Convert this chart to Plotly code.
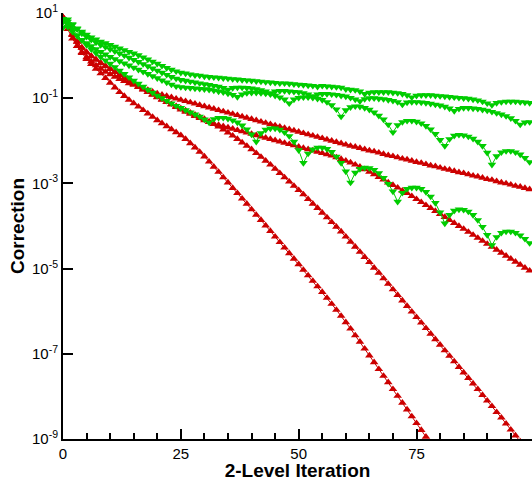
import numpy as np
import plotly.graph_objects as go

# log10 of the correction, one value per 2-level iteration
red_1 = [0.90, 0.72, 0.48, 0.22, 0.06, -0.08, -0.20, -0.31, -0.42, -0.53,
         -0.64, -0.75, -0.86, -0.95, -1.04, -1.12, -1.20, -1.28, -1.36, -1.44,
         -1.52, -1.59, -1.66, -1.73, -1.80, -1.87, -1.96, -2.06, -2.16, -2.26,
         -2.37, -2.49, -2.61, -2.73, -2.86, -2.98, -3.11, -3.23, -3.36, -3.48,
         -3.61, -3.74, -3.86, -3.99, -4.12, -4.25, -4.38, -4.51, -4.64, -4.77,
         -4.90, -5.03, -5.16, -5.29, -5.42, -5.55, -5.69, -5.83, -5.97, -6.11,
         -6.26, -6.41, -6.57, -6.72, -6.88, -7.04, -7.20, -7.36, -7.52, -7.67,
         -7.83, -7.99, -8.15, -8.31, -8.47, -8.63, -8.79, -8.95]

red_2 = [0.88, 0.70, 0.50, 0.32, 0.18, 0.07, -0.02, -0.10, -0.18, -0.25,
         -0.32, -0.39, -0.46, -0.53, -0.60, -0.67, -0.74, -0.80, -0.86, -0.92,
         -0.98, -1.04, -1.09, -1.14, -1.19, -1.24, -1.29, -1.34, -1.39, -1.44,
         -1.49, -1.55, -1.61, -1.67, -1.74, -1.81, -1.88, -1.96, -2.04, -2.12,
         -2.20, -2.29, -2.38, -2.47, -2.56, -2.66, -2.76, -2.86, -2.96, -3.06,
         -3.16, -3.26, -3.37, -3.48, -3.58, -3.69, -3.80, -3.91, -4.02, -4.13,
         -4.25, -4.37, -4.49, -4.61, -4.73, -4.85, -4.98, -5.10, -5.23, -5.36,
         -5.49, -5.62, -5.75, -5.88, -6.01, -6.14, -6.27, -6.40, -6.53, -6.66,
         -6.79, -6.92, -7.05, -7.18, -7.31, -7.44, -7.57, -7.70, -7.83, -7.97,
         -8.10, -8.23, -8.37, -8.50, -8.64, -8.78, -8.92, -9.06]

red_3 = [0.90, 0.70, 0.50, 0.33, 0.19, 0.08, -0.01, -0.09, -0.17, -0.24,
         -0.31, -0.38, -0.45, -0.52, -0.59, -0.66, -0.73, -0.79, -0.85, -0.91,
         -0.97, -1.03, -1.09, -1.15, -1.21, -1.27, -1.32, -1.37, -1.42, -1.47,
         -1.52, -1.56, -1.60, -1.63, -1.66, -1.69, -1.72, -1.75, -1.78, -1.81,
         -1.84, -1.87, -1.90, -1.93, -1.96, -1.99, -2.02, -2.05, -2.08, -2.11,
         -2.14, -2.17, -2.20, -2.23, -2.26, -2.29, -2.32, -2.35, -2.39, -2.43,
         -2.47, -2.51, -2.56, -2.61, -2.67, -2.73, -2.79, -2.85, -2.91, -2.98,
         -3.04, -3.10, -3.17, -3.23, -3.30, -3.37, -3.44, -3.51, -3.58, -3.65,
         -3.72, -3.79, -3.86, -3.93, -4.00, -4.07, -4.14, -4.21, -4.28, -4.35,
         -4.42, -4.49, -4.56, -4.63, -4.70, -4.77, -4.84, -4.91, -4.98, -5.05]

red_4 = [0.90, 0.62, 0.40, 0.22, 0.08, -0.04, -0.14, -0.23, -0.31, -0.38,
         -0.44, -0.50, -0.55, -0.60, -0.65, -0.69, -0.73, -0.77, -0.81, -0.85,
         -0.89, -0.92, -0.95, -0.98, -1.01, -1.04, -1.07, -1.10, -1.13, -1.16,
         -1.19, -1.22, -1.25, -1.28, -1.31, -1.34, -1.37, -1.40, -1.43, -1.46,
         -1.49, -1.52, -1.55, -1.58, -1.61, -1.64, -1.67, -1.70, -1.73, -1.76,
         -1.79, -1.82, -1.85, -1.88, -1.91, -1.94, -1.97, -2.00, -2.03, -2.06,
         -2.09, -2.12, -2.14, -2.17, -2.20, -2.23, -2.25, -2.28, -2.31, -2.34,
         -2.36, -2.39, -2.42, -2.44, -2.47, -2.50, -2.52, -2.55, -2.58, -2.60,
         -2.63, -2.66, -2.68, -2.71, -2.74, -2.76, -2.79, -2.82, -2.84, -2.87,
         -2.90, -2.92, -2.95, -2.98, -3.00, -3.03, -3.06, -3.08, -3.11, -3.14]

green_1 = [0.86, 0.80, 0.72, 0.64, 0.56, 0.49, 0.43, 0.38, 0.33, 0.29,
           0.25, 0.21, 0.17, 0.13, 0.09, 0.05, 0.01, -0.04, -0.09, -0.14,
           -0.19, -0.24, -0.29, -0.33, -0.37, -0.40, -0.42, -0.44, -0.46, -0.47,
           -0.49, -0.50, -0.51, -0.52, -0.53, -0.54, -0.55, -0.56, -0.57, -0.58,
           -0.59, -0.60, -0.61, -0.62, -0.63, -0.64, -0.65, -0.65, -0.66, -0.67,
           -0.68, -0.69, -0.70, -0.71, -0.73, -0.71, -0.72, -0.73, -0.74, -0.75,
           -0.79, -0.80, -0.81, -0.84, -0.90, -0.87, -0.86, -0.86, -0.86, -0.86,
           -0.87, -0.88, -0.90, -0.93, -0.98, -0.94, -0.93, -0.93, -0.93, -0.94,
           -0.95, -0.96, -0.97, -0.98, -0.99, -1.00, -1.01, -1.03, -1.05, -1.08,
           -1.12, -1.16, -1.11, -1.09, -1.08, -1.08, -1.08, -1.09, -1.10, -1.11]

green_2 = [0.80, 0.85, 0.74, 0.62, 0.52, 0.44, 0.37, 0.31, 0.25, 0.20,
           0.15, 0.10, 0.05, 0.00, -0.05, -0.10, -0.15, -0.20, -0.25, -0.30,
           -0.35, -0.40, -0.45, -0.50, -0.54, -0.57, -0.59, -0.61, -0.63, -0.65,
           -0.67, -0.69, -0.71, -0.73, -0.76, -0.80, -0.76, -0.75, -0.75, -0.76,
           -0.77, -0.79, -0.81, -0.84, -0.88, -0.84, -0.83, -0.83, -0.84, -0.85,
           -0.86, -0.88, -0.91, -0.95, -0.91, -0.90, -0.90, -0.91, -0.92, -0.94,
           -0.96, -0.99, -1.03, -1.07, -1.02, -1.00, -1.00, -1.01, -1.02, -1.04,
           -1.06, -1.09, -1.15, -1.10, -1.09, -1.09, -1.10, -1.11, -1.13, -1.15,
           -1.17, -1.20, -1.24, -1.30, -1.25, -1.23, -1.23, -1.24, -1.25, -1.27,
           -1.29, -1.32, -1.35, -1.38, -1.42, -1.47, -1.53, -1.62, -1.57, -1.56]

green_3 = [0.80, 0.68, 0.56, 0.46, 0.37, 0.29, 0.22, 0.15, 0.09, 0.03,
           -0.03, -0.08, -0.13, -0.18, -0.23, -0.28, -0.33, -0.38, -0.43, -0.48,
           -0.53, -0.58, -0.63, -0.68, -0.72, -0.74, -0.75, -0.76, -0.77, -0.78,
           -0.79, -0.80, -0.82, -0.84, -0.86, -0.89, -0.92, -0.97, -0.91, -0.88,
           -0.87, -0.87, -0.88, -0.89, -0.91, -0.94, -0.98, -1.03, -1.12, -1.03,
           -0.99, -0.98, -0.98, -0.99, -1.01, -1.04, -1.09, -1.16, -1.26, -1.43,
           -1.28, -1.21, -1.19, -1.20, -1.23, -1.27, -1.33, -1.41, -1.50, -1.62,
           -1.80, -1.63, -1.56, -1.53, -1.53, -1.55, -1.59, -1.65, -1.73, -1.84,
           -1.98, -2.12, -1.96, -1.88, -1.86, -1.87, -1.90, -1.95, -2.02, -2.12,
           -2.28, -2.56, -2.36, -2.27, -2.24, -2.24, -2.27, -2.32, -2.40, -2.50]

green_4 = [0.66, 0.74, 0.62, 0.48, 0.36, 0.25, 0.15, 0.06, -0.03, -0.11,
           -0.19, -0.27, -0.35, -0.43, -0.51, -0.59, -0.66, -0.73, -0.80, -0.87,
           -0.94, -1.00, -1.06, -1.12, -1.18, -1.23, -1.28, -1.33, -1.38, -1.43,
           -1.50, -1.57, -1.49, -1.46, -1.46, -1.48, -1.52, -1.57, -1.64, -1.73,
           -1.85, -2.02, -1.82, -1.74, -1.71, -1.71, -1.74, -1.80, -1.89, -2.02,
           -2.22, -2.52, -2.30, -2.20, -2.16, -2.16, -2.19, -2.26, -2.37, -2.52,
           -2.72, -2.98, -2.75, -2.66, -2.63, -2.64, -2.68, -2.76, -2.87, -3.01,
           -3.19, -3.43, -3.22, -3.13, -3.10, -3.10, -3.13, -3.20, -3.31, -3.46,
           -3.68, -3.94, -3.74, -3.64, -3.61, -3.62, -3.66, -3.74, -3.86, -4.02,
           -4.21, -4.45, -4.26, -4.16, -4.13, -4.13, -4.16, -4.22, -4.30, -4.40]

red_series = [red_1, red_2, red_3, red_4]
green_series = [green_1, green_2, green_3, green_4]

RED = '#cc0000'
GREEN = '#00cc00'
FONT = 'Liberation Sans, Arial, sans-serif'

fig = go.Figure()

for s in red_series:
    fig.add_trace(go.Scatter(
        x=list(range(len(s))), y=10 ** np.array(s),
        mode='lines+markers',
        line=dict(color=RED, width=1),
        marker=dict(symbol='triangle-up', size=7.5, color=RED, line=dict(width=0)),
        showlegend=False))

for s in green_series:
    fig.add_trace(go.Scatter(
        x=list(range(len(s))), y=10 ** np.array(s),
        mode='lines+markers',
        line=dict(color=GREEN, width=1),
        marker=dict(symbol='triangle-down', size=7.5, color=GREEN, line=dict(width=0)),
        showlegend=False))

ytick_vals = [1e1, 1e-1, 1e-3, 1e-5, 1e-7, 1e-9]
ytick_text = ['10<sup>1</sup>', '10<sup>-1</sup>', '10<sup>-3</sup>',
              '10<sup>-5</sup>', '10<sup>-7</sup>', '10<sup>-9</sup>']

fig.update_layout(
    width=532, height=481,
    margin=dict(l=63, r=0, t=13, b=42),
    paper_bgcolor='white', plot_bgcolor='white',
    font=dict(family=FONT, size=15, color='black'),
    xaxis=dict(
        range=[0, 99.5],
        tickvals=[0, 25, 50, 75],
        ticks='inside', ticklen=10, tickwidth=2, tickcolor='black',
        minor=dict(dtick=5, ticks='inside', ticklen=6, tickwidth=1.5, tickcolor='black'),
        showline=True, linecolor='black', linewidth=2,
        showgrid=False, zeroline=False,
        title=dict(text='<b>2-Level Iteration</b>', font=dict(size=19), standoff=3),
    ),
    yaxis=dict(
        type='log', range=[-9, 1],
        tickvals=ytick_vals, ticktext=ytick_text,
        ticks='inside', ticklen=10, tickwidth=2, tickcolor='black',
        showline=True, linecolor='black', linewidth=2,
        showgrid=False, zeroline=False,
        title=dict(text='<b>Correction</b>', font=dict(size=19), standoff=2),
    ),
)

# drop the default 8px body margin so the figure sits at the page corner
fig.write_html("out.html", config={'displayModeBar': False},
               post_script="document.body.style.margin='0';")
